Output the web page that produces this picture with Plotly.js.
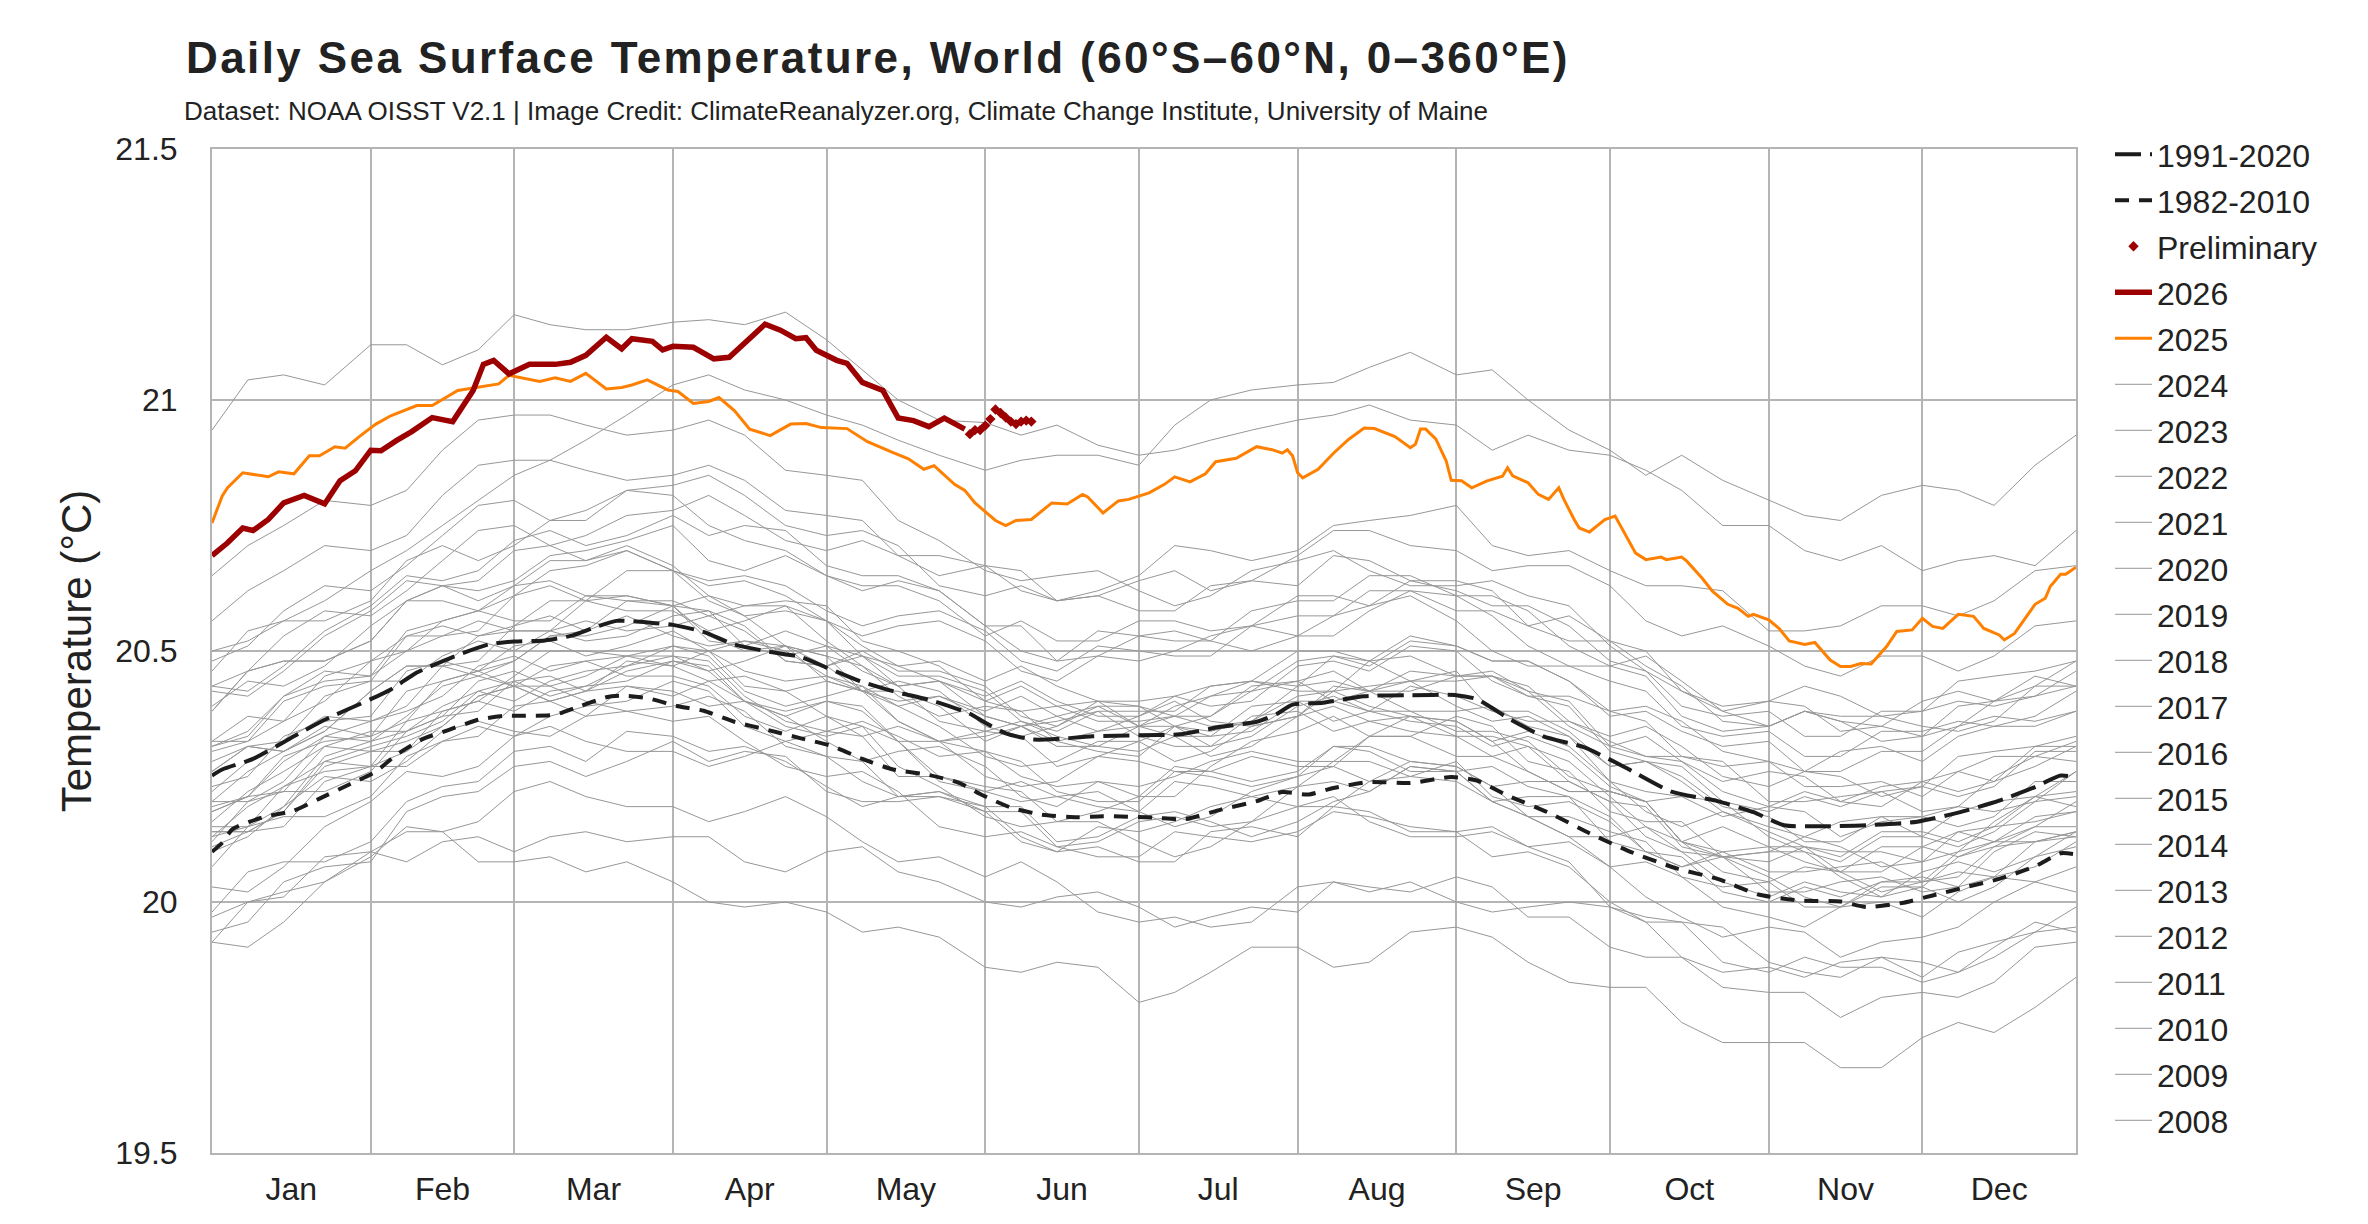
<!DOCTYPE html>
<html>
<head>
<meta charset="utf-8">
<script src="https://cdn.plot.ly/plotly-3.0.1.min.js"></script>
<style>
  html, body { margin: 0; padding: 0; background: #fff; }
  #chart { width: 2368px; height: 1224px; }
  .gtitle { letter-spacing: 2.4px; }
</style>
</head>
<body>
<div id="chart"></div>
<script>
// ---------------- DATA (day of year -> °C) ----------------
const grayDays = [1,8,15,23,32,39,46,53,60,67,74,82,91,98,105,113,121,128,135,143,152,159,166,174,182,189,196,204,213,220,227,235,244,251,258,266,274,281,288,296,305,312,319,327,335,342,349,357,365];

const y1982 = [19.92,20.00,20.02,20.04,20.10,20.14,20.14,20.08,20.08,20.09,20.06,20.08,20.04,20.00,19.99,20.00,19.98,19.94,19.95,19.93,19.87,19.86,19.88,19.87,19.80,19.82,19.86,19.91,19.91,19.87,19.88,19.94,19.95,19.93,19.88,19.84,19.83,19.83,19.76,19.72,19.72,19.72,19.67,19.67,19.73,19.76,19.74,19.79,19.85];
const y1983 = [20.10,20.13,20.19,20.25,20.24,20.28,20.34,20.36,20.34,20.33,20.37,20.38,20.36,20.37,20.32,20.27,20.25,20.26,20.22,20.15,20.13,20.14,20.11,20.09,20.09,20.14,20.13,20.12,20.14,20.18,20.17,20.15,20.14,20.09,20.10,20.07,20.00,19.96,19.96,19.95,19.88,19.86,19.85,19.89,19.88,19.86,19.89,19.94,19.95];
const y1984 = [19.97,20.00,20.01,20.09,20.10,20.08,20.12,20.13,20.10,20.13,20.14,20.12,20.13,20.13,20.08,20.06,20.10,20.11,20.06,20.04,20.00,19.99,20.01,20.02,19.99,19.95,19.97,19.99,19.98,20.04,20.03,20.02,20.05,20.03,19.97,19.97,19.91,19.89,19.89,19.83,19.82,19.82,19.77,19.81,19.82,19.81,19.84,19.91,19.92];
const y1985 = [19.92,19.91,19.96,20.04,20.09,20.15,20.14,20.16,20.22,20.24,20.21,20.19,20.19,20.16,20.18,20.21,20.17,20.12,20.08,20.09,20.05,20.08,20.04,19.98,19.96,19.97,19.95,19.96,20.03,20.04,20.02,20.04,20.00,19.98,19.99,20.00,19.99,19.96,19.89,19.86,19.87,19.85,19.88,19.89,19.85,19.90,19.92,19.94,19.99];
const y1986 = [19.98,20.06,20.08,20.08,20.12,20.20,20.23,20.24,20.30,20.31,20.28,20.34,20.33,20.30,20.31,20.28,20.23,20.19,20.21,20.22,20.18,20.12,20.10,20.15,20.14,20.16,20.19,20.21,20.19,20.19,20.24,20.28,20.27,20.23,20.17,20.13,20.13,20.15,20.10,20.04,20.01,20.04,20.02,20.01,20.06,20.08,20.06,20.09,20.14];
const y1987 = [20.15,20.15,20.19,20.29,20.32,20.34,20.37,20.44,20.46,20.43,20.45,20.49,20.51,20.50,20.43,20.42,20.44,20.42,20.36,20.32,20.34,20.33,20.27,20.29,20.32,20.35,20.31,20.33,20.39,20.41,20.38,20.36,20.35,20.31,20.33,20.30,20.23,20.20,20.21,20.20,20.13,20.10,20.08,20.13,20.13,20.11,20.14,20.20,20.21];
const y1988 = [20.20,20.26,20.30,20.35,20.33,20.36,20.44,20.46,20.43,20.47,20.48,20.45,20.45,20.43,20.37,20.34,20.37,20.35,20.27,20.23,20.17,20.15,20.16,20.16,20.12,20.09,20.11,20.16,20.19,20.21,20.16,20.13,20.13,20.14,20.11,20.08,19.99,19.97,19.96,19.88,19.86,19.89,19.87,19.87,19.84,19.86,19.91,19.96,19.94];
const y1989 = [19.94,19.96,20.04,20.07,20.08,20.18,20.21,20.22,20.27,20.28,20.25,20.28,20.32,20.28,20.30,20.29,20.22,20.20,20.20,20.21,20.18,20.18,20.11,20.12,20.16,20.17,20.15,20.16,20.23,20.24,20.22,20.27,20.26,20.20,20.17,20.17,20.14,20.12,20.05,20.03,20.04,19.99,19.99,20.04,20.04,20.06,20.05,20.07,20.12];
const y1990 = [20.12,20.20,20.22,20.22,20.26,20.34,20.37,20.38,20.44,20.45,20.42,20.48,20.47,20.44,20.45,20.42,20.37,20.33,20.35,20.32,20.25,20.23,20.24,20.29,20.28,20.26,20.26,20.29,20.27,20.27,20.33,20.37,20.36,20.32,20.26,20.22,20.22,20.20,20.12,20.06,20.04,20.07,20.06,20.02,20.04,20.10,20.12,20.12,20.14];
const y1991 = [20.14,20.14,20.18,20.28,20.31,20.33,20.36,20.42,20.44,20.41,20.43,20.47,20.49,20.48,20.41,20.36,20.34,20.36,20.33,20.29,20.30,20.28,20.22,20.20,20.20,20.26,20.25,20.23,20.25,20.27,20.24,20.25,20.28,20.21,20.19,20.20,20.16,20.10,20.07,20.10,20.06,20.06,20.07,20.08,20.04,20.05,20.11,20.15,20.15];
const y1992 = [20.16,20.22,20.26,20.31,20.30,20.30,20.35,20.41,20.43,20.43,20.40,20.38,20.39,20.41,20.38,20.31,20.29,20.28,20.21,20.21,20.19,20.13,20.10,20.11,20.08,20.08,20.14,20.15,20.13,20.19,20.18,20.14,20.14,20.15,20.11,20.12,20.07,20.01,19.97,19.93,19.95,19.94,19.89,19.92,19.93,19.95,20.00,20.04,20.02];
const y1993 = [20.03,20.02,20.07,20.15,20.20,20.26,20.25,20.27,20.33,20.35,20.32,20.30,20.30,20.27,20.29,20.32,20.29,20.24,20.21,20.22,20.19,20.19,20.12,20.13,20.17,20.18,20.16,20.13,20.16,20.20,20.22,20.27,20.26,20.20,20.17,20.13,20.07,20.08,20.05,19.99,19.97,19.95,19.99,20.00,19.97,20.02,20.05,20.04,20.07];
const y1994 = [20.07,20.15,20.17,20.17,20.21,20.29,20.32,20.33,20.39,20.40,20.37,20.43,20.42,20.39,20.40,20.37,20.32,20.28,20.30,20.31,20.27,20.21,20.19,20.24,20.23,20.25,20.28,20.30,20.28,20.28,20.33,20.33,20.29,20.29,20.26,20.22,20.22,20.20,20.12,20.09,20.10,20.13,20.11,20.07,20.08,20.14,20.15,20.16,20.18];
const y1995 = [20.18,20.21,20.28,20.33,20.32,20.37,20.43,20.45,20.43,20.40,20.42,20.46,20.48,20.47,20.40,20.38,20.40,20.38,20.32,20.24,20.22,20.24,20.21,20.19,20.18,20.24,20.23,20.21,20.23,20.28,20.28,20.25,20.24,20.20,20.21,20.21,20.17,20.10,20.07,20.09,20.05,20.01,19.99,20.03,20.03,20.00,20.03,20.09,20.11];
const y1996 = [20.11,20.14,20.15,20.24,20.27,20.27,20.32,20.35,20.33,20.37,20.39,20.40,20.44,20.42,20.35,20.32,20.34,20.33,20.25,20.25,20.22,20.20,20.21,20.22,20.18,20.15,20.17,20.22,20.25,20.31,20.30,20.26,20.26,20.27,20.23,20.21,20.12,20.10,20.09,20.02,20.00,20.03,20.01,20.04,20.05,20.03,20.05,20.12,20.13];
const y1997 = [20.13,20.15,20.23,20.26,20.27,20.36,20.38,20.40,20.45,20.50,20.50,20.49,20.49,20.46,20.48,20.51,20.47,20.42,20.39,20.41,20.38,20.41,20.37,20.34,20.35,20.39,20.41,20.42,20.48,20.49,20.47,20.52,20.51,20.48,20.48,20.44,20.38,20.39,20.36,20.30,20.28,20.26,20.30,20.31,20.28,20.33,20.35,20.35,20.38];
const y1998 = [20.38,20.46,20.48,20.48,20.52,20.60,20.63,20.60,20.63,20.68,20.68,20.70,20.66,20.60,20.57,20.58,20.56,20.49,20.47,20.44,20.37,20.35,20.36,20.38,20.33,20.31,20.31,20.37,20.38,20.34,20.36,20.37,20.33,20.33,20.31,20.24,20.20,20.19,20.11,20.09,20.10,20.10,20.05,20.01,20.03,20.09,20.11,20.12,20.14];
const y1999 = [20.14,20.14,20.18,20.27,20.30,20.32,20.35,20.41,20.43,20.40,20.42,20.43,20.41,20.44,20.40,20.35,20.33,20.35,20.32,20.25,20.23,20.22,20.16,20.18,20.21,20.27,20.26,20.24,20.26,20.31,20.31,20.28,20.27,20.23,20.24,20.24,20.20,20.13,20.10,20.09,20.02,20.02,20.04,20.05,20.02,20.03,20.10,20.14,20.13];
const y2000 = [20.13,20.19,20.23,20.28,20.27,20.30,20.38,20.40,20.38,20.42,20.43,20.44,20.48,20.46,20.40,20.37,20.40,20.39,20.32,20.32,20.30,20.25,20.23,20.24,20.21,20.21,20.27,20.32,20.34,20.37,20.33,20.33,20.37,20.35,20.28,20.26,20.18,20.16,20.16,20.09,20.08,20.11,20.10,20.10,20.08,20.10,20.16,20.21,20.19];
const y2001 = [20.19,20.21,20.29,20.32,20.33,20.42,20.44,20.46,20.51,20.52,20.49,20.51,20.54,20.50,20.52,20.51,20.44,20.42,20.42,20.39,20.32,20.35,20.31,20.31,20.35,20.35,20.33,20.34,20.40,20.40,20.38,20.43,20.41,20.38,20.38,20.34,20.27,20.28,20.24,20.18,20.15,20.13,20.16,20.17,20.13,20.18,20.20,20.21,20.26];
const y2002 = [20.26,20.31,20.30,20.34,20.42,20.47,20.47,20.48,20.55,20.57,20.54,20.57,20.53,20.51,20.52,20.50,20.45,20.42,20.44,20.42,20.35,20.33,20.35,20.40,20.39,20.37,20.37,20.43,20.44,20.40,20.42,20.46,20.45,20.45,20.42,20.35,20.31,20.33,20.28,20.22,20.19,20.22,20.20,20.19,20.24,20.26,20.24,20.27,20.31];
const y2003 = [20.31,20.34,20.41,20.46,20.45,20.50,20.56,20.58,20.56,20.56,20.61,20.61,20.59,20.61,20.57,20.51,20.49,20.47,20.41,20.37,20.39,20.38,20.32,20.34,20.37,20.40,20.36,20.35,20.37,20.42,20.43,20.44,20.46,20.38,20.36,20.36,20.32,20.29,20.29,20.28,20.20,20.20,20.21,20.22,20.18,20.19,20.25,20.29,20.28];
const y2004 = [20.28,20.31,20.32,20.41,20.44,20.44,20.49,20.52,20.50,20.54,20.56,20.54,20.55,20.57,20.54,20.48,20.47,20.50,20.46,20.46,20.43,20.37,20.35,20.39,20.39,20.35,20.37,20.42,20.44,20.46,20.42,20.42,20.45,20.46,20.42,20.40,20.31,20.29,20.28,20.24,20.26,20.25,20.20,20.23,20.24,20.22,20.24,20.31,20.31];
const y2005 = [20.31,20.33,20.41,20.44,20.45,20.54,20.56,20.58,20.63,20.64,20.61,20.60,20.60,20.57,20.59,20.59,20.52,20.47,20.43,20.44,20.40,20.43,20.39,20.36,20.36,20.37,20.35,20.36,20.43,20.44,20.42,20.44,20.39,20.36,20.37,20.33,20.27,20.28,20.25,20.19,20.17,20.12,20.12,20.17,20.17,20.19,20.18,20.20,20.26];
const y2006 = [20.26,20.31,20.30,20.34,20.42,20.47,20.47,20.45,20.48,20.53,20.54,20.60,20.59,20.53,20.50,20.51,20.49,20.42,20.40,20.41,20.37,20.35,20.37,20.39,20.35,20.37,20.41,20.44,20.42,20.42,20.48,20.49,20.45,20.45,20.43,20.36,20.33,20.35,20.31,20.25,20.23,20.26,20.25,20.21,20.23,20.29,20.30,20.31,20.33];
const y2007 = [20.32,20.32,20.36,20.45,20.48,20.50,20.53,20.56,20.54,20.54,20.60,20.61,20.59,20.58,20.51,20.49,20.51,20.49,20.43,20.36,20.34,20.36,20.33,20.31,20.30,20.33,20.29,20.31,20.37,20.39,20.36,20.34,20.33,20.29,20.31,20.28,20.21,20.15,20.12,20.15,20.11,20.08,20.06,20.11,20.11,20.09,20.12,20.17,20.18];
const y2008 = [20.18,20.21,20.22,20.31,20.34,20.34,20.39,20.42,20.40,20.44,20.46,20.47,20.51,20.49,20.42,20.39,20.41,20.43,20.39,20.35,20.29,20.27,20.28,20.32,20.32,20.28,20.30,20.35,20.37,20.43,20.42,20.38,20.38,20.39,20.35,20.33,20.24,20.22,20.21,20.17,20.19,20.18,20.13,20.16,20.17,20.15,20.17,20.24,20.24];
const y2009 = [20.23,20.25,20.33,20.36,20.37,20.46,20.48,20.46,20.48,20.53,20.53,20.55,20.59,20.52,20.51,20.54,20.51,20.46,20.43,20.44,20.41,20.44,20.40,20.37,20.37,20.41,20.43,20.44,20.50,20.50,20.48,20.53,20.51,20.48,20.48,20.44,20.37,20.38,20.34,20.31,20.32,20.26,20.26,20.30,20.30,20.35,20.37,20.36,20.38];
const y2010 = [20.38,20.46,20.48,20.48,20.52,20.60,20.63,20.64,20.70,20.71,20.68,20.71,20.67,20.61,20.59,20.60,20.59,20.52,20.50,20.47,20.40,20.38,20.39,20.40,20.35,20.33,20.33,20.39,20.40,20.36,20.38,20.38,20.34,20.34,20.32,20.25,20.22,20.20,20.12,20.10,20.11,20.11,20.06,20.06,20.11,20.14,20.12,20.15,20.20];
const y2011 = [20.20,20.20,20.24,20.33,20.36,20.38,20.41,20.47,20.49,20.46,20.48,20.49,20.47,20.50,20.46,20.44,20.45,20.43,20.36,20.32,20.33,20.35,20.32,20.30,20.29,20.35,20.34,20.36,20.41,20.42,20.39,20.37,20.36,20.32,20.34,20.31,20.24,20.18,20.15,20.18,20.14,20.11,20.09,20.14,20.14,20.12,20.15,20.21,20.22];
const y2012 = [20.22,20.28,20.32,20.37,20.36,20.39,20.47,20.53,20.54,20.54,20.52,20.53,20.57,20.58,20.55,20.48,20.47,20.49,20.45,20.45,20.42,20.36,20.34,20.38,20.38,20.38,20.43,20.44,20.43,20.49,20.48,20.44,20.44,20.45,20.41,20.39,20.30,20.28,20.27,20.20,20.18,20.21,20.19,20.22,20.23,20.21,20.23,20.30,20.30];
const y2013 = [20.30,20.32,20.40,20.43,20.44,20.53,20.55,20.53,20.55,20.60,20.60,20.58,20.58,20.54,20.56,20.59,20.56,20.51,20.47,20.48,20.44,20.47,20.43,20.40,20.40,20.41,20.39,20.40,20.47,20.48,20.46,20.51,20.50,20.44,20.41,20.41,20.38,20.36,20.29,20.27,20.28,20.23,20.23,20.24,20.21,20.26,20.29,20.29,20.32];
const y2014 = [20.32,20.37,20.36,20.40,20.48,20.53,20.53,20.54,20.61,20.63,20.60,20.66,20.66,20.63,20.64,20.61,20.56,20.53,20.55,20.56,20.52,20.46,20.44,20.49,20.48,20.50,20.53,20.55,20.53,20.53,20.58,20.62,20.61,20.57,20.51,20.47,20.47,20.45,20.37,20.34,20.35,20.38,20.36,20.32,20.33,20.39,20.40,20.41,20.43];
const y2015 = [20.43,20.46,20.53,20.58,20.57,20.62,20.68,20.74,20.75,20.71,20.73,20.77,20.78,20.81,20.77,20.72,20.70,20.72,20.69,20.65,20.67,20.66,20.60,20.62,20.65,20.71,20.70,20.68,20.70,20.75,20.76,20.77,20.79,20.71,20.69,20.70,20.66,20.63,20.63,20.62,20.54,20.54,20.55,20.59,20.59,20.57,20.60,20.66,20.67];
const y2016 = [20.65,20.71,20.75,20.80,20.79,20.82,20.90,20.96,20.97,20.97,20.95,20.93,20.94,20.96,20.93,20.86,20.85,20.84,20.76,20.72,20.66,20.64,20.65,20.66,20.62,20.59,20.61,20.66,20.68,20.70,20.66,20.63,20.63,20.64,20.61,20.59,20.51,20.46,20.42,20.38,20.40,20.39,20.34,20.35,20.33,20.35,20.40,20.45,20.43];
const y2017 = [20.43,20.42,20.47,20.54,20.59,20.65,20.64,20.66,20.72,20.74,20.71,20.73,20.77,20.73,20.75,20.74,20.67,20.65,20.65,20.62,20.55,20.55,20.48,20.49,20.53,20.54,20.52,20.50,20.53,20.57,20.59,20.61,20.56,20.50,20.47,20.47,20.44,20.42,20.35,20.33,20.34,20.29,20.29,20.34,20.34,20.36,20.35,20.37,20.42];
const y2018 = [20.39,20.44,20.43,20.47,20.55,20.60,20.60,20.58,20.61,20.66,20.67,20.70,20.66,20.64,20.65,20.63,20.58,20.55,20.57,20.58,20.54,20.48,20.46,20.51,20.50,20.49,20.49,20.55,20.57,20.57,20.62,20.62,20.58,20.58,20.55,20.52,20.52,20.50,20.42,20.39,20.40,20.43,20.41,20.37,20.38,20.44,20.45,20.46,20.48];
const y2019 = [20.48,20.51,20.58,20.63,20.62,20.67,20.73,20.79,20.80,20.76,20.78,20.82,20.83,20.85,20.81,20.75,20.73,20.74,20.71,20.63,20.61,20.63,20.60,20.61,20.64,20.66,20.62,20.64,20.69,20.74,20.74,20.71,20.70,20.66,20.67,20.67,20.63,20.56,20.53,20.55,20.51,20.47,20.45,20.49,20.49,20.46,20.49,20.55,20.56];
const y2020 = [20.56,20.62,20.66,20.71,20.70,20.73,20.81,20.87,20.88,20.88,20.86,20.84,20.85,20.87,20.84,20.78,20.77,20.76,20.69,20.69,20.67,20.62,20.60,20.61,20.58,20.58,20.63,20.64,20.63,20.69,20.68,20.64,20.64,20.62,20.55,20.57,20.52,20.47,20.43,20.36,20.35,20.38,20.37,20.37,20.35,20.34,20.36,20.43,20.43];
const y2021 = [20.42,20.41,20.46,20.53,20.58,20.64,20.63,20.62,20.64,20.69,20.70,20.72,20.75,20.68,20.66,20.69,20.65,20.63,20.63,20.60,20.53,20.56,20.52,20.52,20.56,20.56,20.54,20.55,20.61,20.61,20.59,20.64,20.62,20.59,20.59,20.55,20.48,20.46,20.39,20.37,20.38,20.33,20.33,20.38,20.38,20.40,20.39,20.41,20.46];
const y2022 = [20.46,20.54,20.56,20.56,20.60,20.68,20.71,20.68,20.71,20.76,20.76,20.82,20.81,20.75,20.72,20.70,20.65,20.62,20.64,20.62,20.55,20.50,20.48,20.54,20.53,20.52,20.52,20.58,20.60,20.60,20.65,20.65,20.61,20.61,20.58,20.51,20.47,20.49,20.44,20.38,20.35,20.38,20.36,20.35,20.40,20.42,20.40,20.43,20.48];
const y2023 = [20.50,20.52,20.56,20.60,20.66,20.70,20.75,20.80,20.85,20.88,20.92,20.97,21.03,21.05,21.02,21.00,20.97,20.95,20.92,20.89,20.86,20.88,20.89,20.89,20.87,20.95,21.00,21.02,21.03,21.035,21.065,21.095,21.05,21.06,21.00,20.94,20.90,20.85,20.89,20.84,20.80,20.77,20.76,20.81,20.83,20.82,20.79,20.87,20.93];
const y2024 = [20.94,21.04,21.05,21.03,21.11,21.11,21.07,21.10,21.17,21.15,21.14,21.14,21.155,21.16,21.15,21.175,21.12,21.06,21.00,20.96,20.955,20.93,20.95,20.91,20.89,20.90,20.92,20.94,20.96,20.97,20.99,20.96,20.95,20.90,20.93,20.90,20.89,20.86,20.82,20.75,20.75,20.70,20.68,20.71,20.66,20.68,20.69,20.67,20.74];

const grayYears = [1982,1983,1984,1985,1986,1987,1988,1989,1990,1991,1992,1993,1994,1995,1996,1997,1998,1999,2000,2001,2002,2003,2004,2005,2006,2007,2008,2009,2010,2011,2012,2013,2014,2015,2016,2017,2018,2019,2020,2021,2022,2023,2024];
const grayValues = [y1982,y1983,y1984,y1985,y1986,y1987,y1988,y1989,y1990,y1991,y1992,y1993,y1994,y1995,y1996,y1997,y1998,y1999,y2000,y2001,y2002,y2003,y2004,y2005,y2006,y2007,y2008,y2009,y2010,y2011,y2012,y2013,y2014,y2015,y2016,y2017,y2018,y2019,y2020,y2021,y2022,y2023,y2024];
const firstLegendYear = 2008;

const days2025 = [1,3,4,7,12,14,17,20,22,25,27,30,33,36,41,44,49,54,57,59,62,65,68,71,74,78,81,83,86,90,92,95,98,100,103,106,110,114,117,120,125,129,134,137,140,142,146,148,150,154,156,158,161,165,168,171,172,175,178,180,184,187,189,192,195,197,201,205,208,210,211,212,213,214,217,220,223,226,228,232,235,236,237,238,240,242,243,245,247,250,253,254,255,258,260,262,264,265,267,268,270,273,275,277,279,281,284,285,288,289,292,294,297,299,301,302,305,307,309,312,314,317,319,321,323,325,328,330,333,335,337,339,342,345,347,350,351,353,355,357,359,360,362,363,365];
const vals2025 = [20.755,20.809,20.825,20.855,20.847,20.857,20.853,20.889,20.889,20.907,20.904,20.929,20.952,20.969,20.989,20.989,21.019,21.027,21.032,21.049,21.043,21.037,21.044,21.037,21.053,21.022,21.025,21.03,21.04,21.02,21.017,20.993,20.997,21.005,20.979,20.942,20.929,20.952,20.953,20.945,20.943,20.917,20.895,20.883,20.862,20.869,20.832,20.82,20.795,20.76,20.75,20.76,20.762,20.795,20.793,20.812,20.807,20.775,20.799,20.802,20.815,20.832,20.847,20.837,20.853,20.877,20.884,20.907,20.901,20.894,20.901,20.889,20.855,20.845,20.862,20.894,20.922,20.944,20.943,20.927,20.905,20.912,20.942,20.942,20.922,20.879,20.84,20.839,20.825,20.839,20.848,20.865,20.849,20.835,20.812,20.802,20.825,20.802,20.762,20.745,20.737,20.762,20.769,20.732,20.695,20.682,20.687,20.682,20.687,20.679,20.645,20.619,20.593,20.585,20.569,20.573,20.562,20.545,20.52,20.513,20.517,20.482,20.469,20.469,20.475,20.474,20.509,20.539,20.542,20.565,20.549,20.545,20.573,20.569,20.545,20.532,20.522,20.535,20.565,20.593,20.605,20.629,20.653,20.653,20.667];

const days2026 = [1,4,7,9,12,15,19,23,26,29,32,34,37,40,44,48,52,54,56,59,63,68,71,74,78,81,83,87,89,91,95,99,102,105,109,112,115,117,119,123,125,128,132,135,138,141,144,148];
const vals2026 = [20.69,20.715,20.745,20.74,20.762,20.795,20.81,20.793,20.839,20.859,20.90,20.899,20.919,20.937,20.965,20.957,21.019,21.071,21.079,21.052,21.071,21.071,21.075,21.089,21.125,21.102,21.122,21.117,21.10,21.107,21.105,21.082,21.085,21.112,21.151,21.139,21.122,21.124,21.099,21.079,21.073,21.035,21.019,20.964,20.959,20.947,20.964,20.942];

const daysPrelim = [149,150,151,152,153,154,155,156,157,158,159,160,161];
const valsPrelim = [20.932,20.94,20.94,20.949,20.962,20.981,20.974,20.965,20.957,20.952,20.957,20.959,20.957];

const daysMean9120 = [1,3,9,17,23,32,36,41,48,55,60,66,71,76,80,87,91,97,103,109,116,121,127,134,142,149,152,156,161,165,173,182,190,198,205,209,212,218,226,235,244,248,254,261,269,277,286,295,302,308,316,324,334,342,350,357,362,365];
const valsMean9120 = [20.252,20.264,20.285,20.33,20.363,20.404,20.424,20.457,20.488,20.513,20.519,20.521,20.53,20.548,20.56,20.556,20.552,20.538,20.513,20.50,20.488,20.467,20.442,20.42,20.40,20.375,20.357,20.336,20.324,20.324,20.33,20.332,20.334,20.349,20.359,20.375,20.393,20.397,20.41,20.412,20.412,20.404,20.367,20.33,20.308,20.268,20.22,20.201,20.179,20.153,20.151,20.153,20.16,20.178,20.202,20.229,20.252,20.248];

const daysMean8210 = [1,3,5,11,17,22,28,33,37,42,47,53,58,62,68,72,78,81,86,92,97,103,109,116,122,128,134,141,147,151,157,163,170,175,185,191,198,205,210,215,220,227,235,243,248,254,262,270,278,287,295,303,311,319,324,331,337,344,350,357,362,365];
const valsMean8210 = [20.10,20.118,20.145,20.169,20.182,20.206,20.235,20.26,20.293,20.324,20.342,20.363,20.371,20.371,20.373,20.387,20.408,20.411,20.406,20.39,20.381,20.359,20.344,20.326,20.311,20.285,20.264,20.253,20.237,20.215,20.188,20.174,20.169,20.171,20.168,20.165,20.184,20.201,20.219,20.214,20.227,20.239,20.237,20.249,20.242,20.212,20.178,20.137,20.10,20.067,20.046,20.015,20.003,20.001,19.99,19.998,20.013,20.031,20.046,20.071,20.097,20.095];

const monthTickFormat = '%b';
const yTickVals = [19.5, 20, 20.5, 21, 21.5];
const yTickText = ['19.5', '20', '20.5', '21', '21.5'];

// ---------------- helpers ----------------
function toDate(d) {
  const t = new Date(Date.UTC(2001, 0, 1) + (d - 1) * 86400000);
  return t.toISOString().slice(0, 10);
}

const FONT = 'Liberation Sans, Arial, Helvetica, sans-serif';
const GRAY = '#979797';
const GRID = '#b4b4b4';

const traces = [];
grayYears.forEach((yr, i) => {
  const inLegend = yr >= firstLegendYear;
  traces.push({
    type: 'scatter', mode: 'lines', name: String(yr),
    x: grayDays.map(toDate), y: grayValues[i],
    line: { color: GRAY, width: 1 },
    showlegend: inLegend, legendgroup: 'g' + yr,
    legendrank: inLegend ? 6 + (2024 - yr) : 1000,
    hoverinfo: 'skip'
  });
});

traces.push({
  type: 'scatter', mode: 'lines', name: '1982-2010',
  x: daysMean8210.map(toDate), y: valsMean8210,
  line: { color: '#1c1c1c', width: 4, dash: '14px,10px', shape: 'spline', smoothing: 0.6 },
  legendgroup: 'm8210', legendrank: 2
});
traces.push({
  type: 'scatter', mode: 'lines', name: '1991-2020',
  x: daysMean9120.map(toDate), y: valsMean9120,
  line: { color: '#1c1c1c', width: 4, dash: '26px,9px', shape: 'spline', smoothing: 0.6 },
  legendgroup: 'm9120', legendrank: 1
});
traces.push({
  type: 'scatter', mode: 'lines', name: '2025',
  x: days2025.map(toDate), y: vals2025,
  line: { color: '#ff8000', width: 3 },
  legendgroup: 'y2025', legendrank: 5
});
traces.push({
  type: 'scatter', mode: 'lines', name: '2026',
  x: days2026.map(toDate), y: vals2026,
  line: { color: '#9c0000', width: 5.5 },
  legendgroup: 'y2026', legendrank: 4
});
traces.push({
  type: 'scatter', mode: 'markers', name: 'Preliminary',
  x: daysPrelim.map(toDate), y: valsPrelim,
  marker: { symbol: 'diamond', size: 8, color: '#9c0000' },
  legendgroup: 'prelim', legendrank: 3
});

const layout = {
  width: 2368, height: 1224, autosize: false,
  margin: { l: 212, r: 292, t: 149, b: 71, pad: 0 },
  paper_bgcolor: '#ffffff', plot_bgcolor: '#ffffff',
  font: { family: FONT, color: '#222222', size: 32 },
  title: {
    text: '<b>Daily Sea Surface Temperature, World (60°S–60°N, 0–360°E)</b>',
    font: { family: FONT, size: 44, color: '#222222' },
    xref: 'container', x: 186 / 2368, xanchor: 'left',
    yref: 'container', y: 1 - 57.5 / 1224, yanchor: 'middle'
  },
  annotations: [{
    text: 'Dataset: NOAA OISST V2.1 | Image Credit: ClimateReanalyzer.org, Climate Change Institute, University of Maine',
    xref: 'paper', yref: 'paper', x: (182 - 212) / 1864, y: (1153 - 111) / 1004,
    xanchor: 'left', yanchor: 'middle', showarrow: false,
    font: { family: FONT, size: 26, color: '#222222' }
  }],
  xaxis: {
    type: 'date', range: ['2001-01-01', '2001-12-31'],
    tick0: '2001-01-01', dtick: 'M1', tickformat: monthTickFormat, ticklabelmode: 'period',
    showgrid: true, gridcolor: GRID, gridwidth: 2,
    showline: true, mirror: true, linecolor: GRID, linewidth: 2,
    ticks: 'outside', ticklen: 7, tickcolor: 'rgba(0,0,0,0)',
    tickfont: { family: FONT, size: 32, color: '#222222' },
    zeroline: false, fixedrange: true
  },
  yaxis: {
    range: [19.5, 21.5], tickmode: 'array', tickvals: yTickVals, ticktext: yTickText,
    showgrid: true, gridcolor: GRID, gridwidth: 2,
    showline: true, mirror: true, linecolor: GRID, linewidth: 2,
    ticks: 'outside', ticklen: 26, tickcolor: 'rgba(0,0,0,0)',
    tickfont: { family: FONT, size: 32, color: '#222222' },
    zeroline: false, fixedrange: true,
    title: { text: 'Temperature (°C)', font: { family: FONT, size: 42, color: '#222222' }, standoff: 11 }
  },
  showlegend: true,
  legend: {
    x: 1 + (2110 - 2076) / 1864, xanchor: 'left',
    y: (1153 - 127) / 1004, yanchor: 'top',
    font: { family: FONT, size: 32, color: '#222222' },
    traceorder: 'grouped', tracegroupgap: 1.4, maxheight: 1150,
    itemwidth: 37, bgcolor: 'rgba(0,0,0,0)', borderwidth: 0
  },
  hovermode: false
};

Plotly.newPlot('chart', traces, layout, { staticPlot: true, displayModeBar: false });
</script>
</body>
</html>
